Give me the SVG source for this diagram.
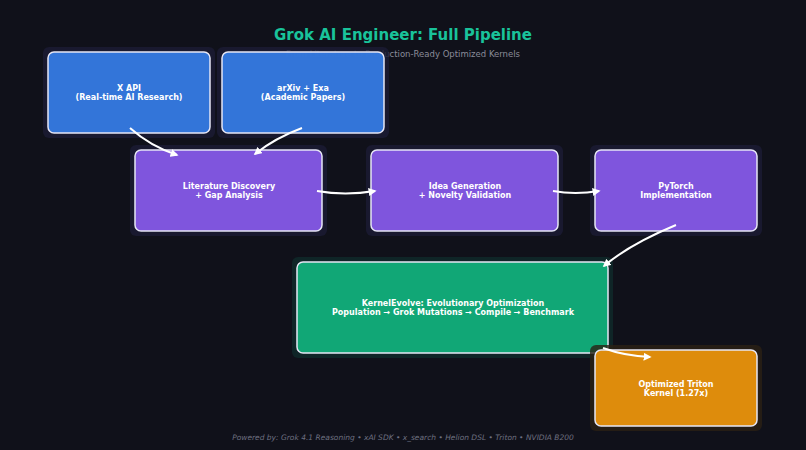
<svg xmlns="http://www.w3.org/2000/svg" width="806" height="450" viewBox="0 0 806 450">
<style>
text{font-family:"DejaVu Sans",sans-serif;text-anchor:middle}
.t{font-size:8px;font-weight:bold;fill:#fff}
.b{stroke:#e6e6f5;stroke-width:1.5}
.h{fill:#1c1c34;opacity:.8}
.c{fill:none;stroke:#fff;stroke-width:2;marker-end:url(#a)}
</style>
<defs><marker id="a" viewBox="0 0 10 10" refX="8" refY="5" markerWidth="4" markerHeight="4" orient="auto"><path d="M0,0L10,5L0,10z" fill="#fff"/></marker></defs>
<rect width="806" height="450" fill="#10111a"/>
<text x="403" y="40" font-size="15" font-weight="bold" fill="#19c39a">Grok AI Engineer: Full Pipeline</text>
<text x="403" y="57" font-size="8.5" fill="#8a8c99">From Literature to Production-Ready Optimized Kernels</text>
<g id="xapi"><rect class="h" x="43" y="47" width="172" height="91" rx="6"/><rect class="b" x="48" y="52" width="162" height="81" rx="6" fill="#3579df" fill-opacity=".97"/><text class="t" x="129" y="91">X API</text><text class="t" x="129" y="100">(Real-time AI Research)</text></g>
<g id="arxiv"><rect class="h" x="217" y="47" width="172" height="91" rx="6"/><rect class="b" x="222" y="52" width="162" height="81" rx="6" fill="#3579df" fill-opacity=".97"/><text class="t" x="303" y="91">arXiv + Exa</text><text class="t" x="303" y="100">(Academic Papers)</text></g>
<g id="lit"><rect class="h" x="130" y="145" width="197" height="91" rx="6"/><rect class="b" x="135" y="150" width="187" height="81" rx="6" fill="#7f55dd"/><text class="t" x="229" y="189">Literature Discovery</text><text class="t" x="229" y="198">+ Gap Analysis</text></g>
<g id="idea"><rect class="h" x="366" y="145" width="197" height="91" rx="6"/><rect class="b" x="371" y="150" width="187" height="81" rx="6" fill="#7f55dd"/><text class="t" x="465" y="189">Idea Generation</text><text class="t" x="465" y="198">+ Novelty Validation</text></g>
<g id="pytorch"><rect class="h" x="590" y="145" width="172" height="91" rx="6"/><rect class="b" x="595" y="150" width="162" height="81" rx="6" fill="#7f55dd"/><text class="t" x="676" y="189">PyTorch</text><text class="t" x="676" y="198">Implementation</text></g>
<g id="kernel"><rect x="292" y="257" width="321" height="101" rx="6" fill="#0f2a2a" opacity=".8"/><rect class="b" x="297" y="262" width="311" height="91" rx="6" fill="#11a776"/><text class="t" x="453" y="306">KernelEvolve: Evolutionary Optimization</text><text class="t" x="453" y="315">Population → Grok Mutations → Compile → Benchmark</text></g>
<g id="triton"><rect x="590" y="345" width="172" height="86" rx="6" fill="#2a2014" opacity=".8"/><rect class="b" x="595" y="350" width="162" height="76" rx="6" fill="#de8c0c"/><text class="t" x="676" y="387">Optimized Triton</text><text class="t" x="676" y="396">Kernel (1.27x)</text></g>
<g id="connectors">
<path class="c" d="M130,128Q150,146 177,155"/>
<path class="c" d="M302,128Q275,138 255,154"/>
<path class="c" d="M317,191Q345,196 375,191"/>
<path class="c" d="M553,191Q575,195 599,191"/>
<path class="c" d="M676,225Q630,244 604,266"/>
<path class="c" d="M603,348Q625,356 650,357"/>
</g>
<text x="403" y="440" font-size="7.5" font-style="italic" fill="#6e7080">Powered by: Grok 4.1 Reasoning  •  xAI SDK  •  x_search  •  Helion DSL  •  Triton  •  NVIDIA B200</text>
</svg>
